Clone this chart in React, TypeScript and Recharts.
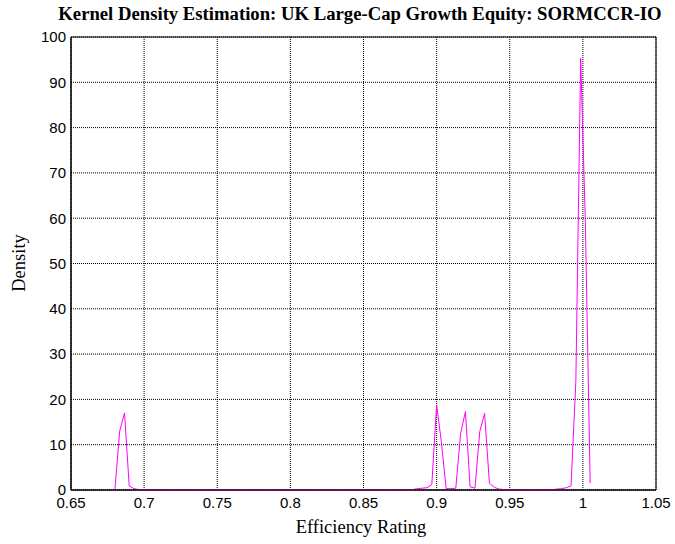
import { LineChart, Line, XAxis, YAxis, CartesianGrid, ReferenceArea } from 'recharts';

// KDE evaluation points (efficiency rating)
const efficiency = [
  0.6800, 0.6833, 0.6866, 0.6898, 0.6931, 0.6964, 0.6997, 0.7030, 0.7063, 0.7095,
  0.7128, 0.7161, 0.7194, 0.7227, 0.7260, 0.7292, 0.7325, 0.7358, 0.7391, 0.7424,
  0.7457, 0.7489, 0.7522, 0.7555, 0.7588, 0.7621, 0.7654, 0.7686, 0.7719, 0.7752,
  0.7785, 0.7818, 0.7850, 0.7883, 0.7916, 0.7949, 0.7982, 0.8015, 0.8047, 0.8080,
  0.8113, 0.8146, 0.8179, 0.8212, 0.8244, 0.8277, 0.8310, 0.8343, 0.8376, 0.8409,
  0.8441, 0.8474, 0.8507, 0.8540, 0.8573, 0.8606, 0.8638, 0.8671, 0.8704, 0.8737,
  0.8770, 0.8803, 0.8835, 0.8868, 0.8901, 0.8934, 0.8967, 0.9000, 0.9032, 0.9065,
  0.9098, 0.9131, 0.9164, 0.9197, 0.9229, 0.9262, 0.9295, 0.9328, 0.9361, 0.9394,
  0.9426, 0.9459, 0.9492, 0.9525, 0.9558, 0.9591, 0.9623, 0.9656, 0.9689, 0.9722,
  0.9755, 0.9788, 0.9820, 0.9853, 0.9886, 0.9919, 0.9952, 0.9985, 1.0017, 1.0050,
];

const density = [
  0, 13, 17, 0.9, 0.3, 0.1, 0.05, 0.05, 0.05, 0.05,
  0.05, 0.05, 0.05, 0.05, 0.05, 0.05, 0.05, 0.05, 0.05, 0.05,
  0.05, 0.05, 0.05, 0.05, 0.05, 0.05, 0.05, 0.05, 0.05, 0.05,
  0.05, 0.05, 0.05, 0.05, 0.05, 0.05, 0.05, 0.05, 0.05, 0.05,
  0.05, 0.05, 0.05, 0.05, 0.05, 0.05, 0.05, 0.05, 0.05, 0.05,
  0.05, 0.05, 0.05, 0.05, 0.05, 0.05, 0.05, 0.05, 0.05, 0.05,
  0.05, 0.05, 0.1, 0.3, 0.4, 0.5, 1.2, 18.8, 10.7, 0.3,
  0.3, 0.4, 12.5, 17.3, 0.7, 0.4, 12.9, 16.9, 1.5, 0.6,
  0.2, 0.1, 0.05, 0.05, 0.05, 0.05, 0.05, 0.05, 0.05, 0.05,
  0.05, 0.05, 0.2, 0.3, 0.5, 0.9, 24, 95.3, 59, 1.5,
];

const xTicks = [0.65, 0.7, 0.75, 0.8, 0.85, 0.9, 0.95, 1, 1.05];
const yTicks = [0, 10, 20, 30, 40, 50, 60, 70, 80, 90, 100];

const chartData = efficiency.map((x, i) => ({ x, y: density[i] }));

const tickStyle = { fill: '#000', fontSize: 15, fontFamily: '"Liberation Sans", Arial, sans-serif' };
const serif = '"Liberation Serif", "Times New Roman", serif';

export default function App() {
  return (
    <div style={{ position: 'absolute', left: 0, top: 0, width: 675, height: 544, background: '#fff' }}>
      <LineChart
        width={675}
        height={544}
        data={chartData}
        margin={{ top: 37, right: 19, bottom: 24, left: 0 }}
      >
        <CartesianGrid stroke="#000" strokeDasharray="1 1" />
        <XAxis
          dataKey="x"
          type="number"
          domain={[0.65, 1.05]}
          ticks={xTicks}
          allowDataOverflow
          height={30}
          tickLine={false}
          tickSize={5}
          tickMargin={2}
          axisLine={{ stroke: '#000' }}
          tick={tickStyle}
          tickFormatter={(v) => String(Number(Number(v).toFixed(2)))}
        />
        <YAxis
          type="number"
          domain={[0, 100]}
          ticks={yTicks}
          width={71}
          tickLine={false}
          tickSize={3}
          tickMargin={2}
          axisLine={{ stroke: '#000' }}
          tick={tickStyle}
        />
        <ReferenceArea x1={0.65} x2={1.05} y1={0} y2={100} fill="none" stroke="#000" strokeWidth={1} />
        <Line
          type="linear"
          dataKey="y"
          stroke="#ff00ff"
          strokeWidth={1}
          dot={false}
          isAnimationActive={false}
        />
      </LineChart>
      <div
        style={{
          position: 'absolute', left: 0, width: 720, top: 3, textAlign: 'center',
          fontFamily: serif, fontWeight: 'bold', fontSize: 18.7, whiteSpace: 'nowrap',
        }}
      >
        Kernel Density Estimation: UK Large-Cap Growth Equity: SORMCCR-IO
      </div>
      <div
        style={{
          position: 'absolute', left: 261, width: 200, top: 517, textAlign: 'center',
          fontFamily: serif, fontSize: 18.5,
        }}
      >
        Efficiency Rating
      </div>
      <div
        style={{
          position: 'absolute', left: 19, top: 263, width: 0, height: 0,
        }}
      >
        <div
          style={{
            position: 'absolute', left: -50, top: -11, width: 100, textAlign: 'center',
            transform: 'rotate(-90deg)', fontFamily: serif, fontSize: 18.5, lineHeight: '22px',
          }}
        >
          Density
        </div>
      </div>
    </div>
  );
}
